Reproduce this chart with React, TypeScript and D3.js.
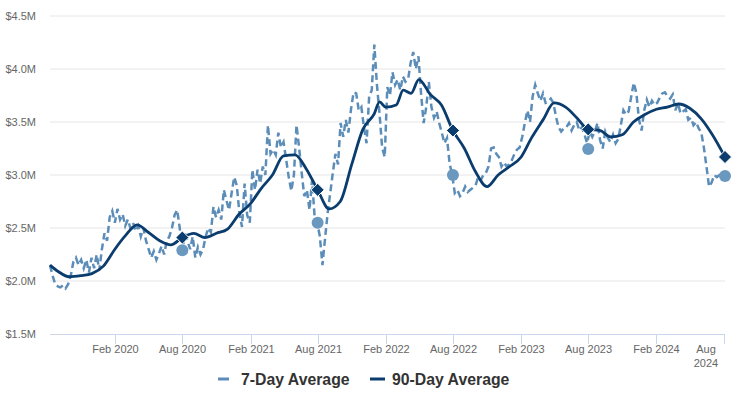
import { FC, useEffect, useRef } from 'react'
import * as d3 from 'd3'

// 7-day average, weekly points starting 2019-08-10 ($M)
const weekStart = '2019-08-10'
const avg7 = [
  2.15, 2.05, 1.97, 1.95, // Aug 2019
  1.94, 1.96, 1.93, 1.97,
  2.05, 2.18, 2.22, 2.15,
  2.2, 2.12, 2.2, 2.08, 2.22,
  2.12, 2.25, 2.1, 2.3,
  2.45, 2.38, 2.6, 2.66, // Jan 2020
  2.55, 2.68, 2.58, 2.63, 2.52,
  2.58, 2.5, 2.55, 2.47,
  2.52, 2.42, 2.5, 2.38,
  2.3, 2.22, 2.28, 2.2, 2.26,
  2.33, 2.25, 2.38, 2.42,
  2.5, 2.62, 2.67, 2.5,
  2.29, 2.45, 2.38, 2.3, 2.42, // Aug 2020
  2.22, 2.32, 2.25, 2.3,
  2.42, 2.5, 2.46, 2.7, 2.6,
  2.67, 2.58, 2.86, 2.76,
  2.67, 2.83, 2.98, 2.9,
  2.64, 2.51, 2.92, 2.62, 2.55, // Jan 2021
  3.05, 2.86, 3.05, 2.92,
  3.08, 3.0, 3.47, 3.2,
  3.24, 3.19, 3.4, 3.26,
  3.31, 3.15, 2.98, 2.85, 3.0,
  3.47, 3.26, 3.02, 2.8,
  2.86, 2.67, 2.95, 2.6, 2.55,
  2.42, 2.15, 2.4, 2.64, // Aug 2021
  2.83, 3.02, 3.2, 3.1,
  3.49, 3.36, 3.52, 3.4, 3.62,
  3.78, 3.77, 3.61, 3.64,
  3.45, 3.3, 3.74, 3.8,
  4.23, 3.85, 3.58, 3.26, 3.17, // Jan 2022
  3.83, 3.75, 3.97, 3.85,
  3.9, 3.8, 3.93, 3.88,
  3.9, 4.06, 4.16, 4.0, 4.12,
  3.77, 3.49, 3.64, 3.88,
  3.64, 3.54, 3.6, 3.49,
  3.4, 3.3, 3.35, 3.11, 3.0,
  2.83, 2.86, 2.8, 2.83, // Aug 2022
  2.89, 2.84, 2.86, 2.88,
  2.9, 2.98, 2.95, 3.0, 3.02,
  3.08, 3.25, 3.26, 3.2,
  3.17, 3.08, 3.12, 3.08, 3.1,
  3.14, 3.2, 3.24, 3.26, // Jan 2023
  3.36, 3.49, 3.61, 3.5,
  3.74, 3.85, 3.77, 3.7,
  3.77, 3.68, 3.69, 3.72, 3.68,
  3.55, 3.45, 3.41, 3.44,
  3.45, 3.49, 3.42, 3.47,
  3.5, 3.42, 3.45, 3.38, 3.3,
  3.41, 3.36, 3.41, 3.49, // Aug 2023
  3.33, 3.25, 3.41, 3.35, 3.31,
  3.38, 3.3, 3.34, 3.47,
  3.61, 3.57, 3.6, 3.74,
  3.87, 3.77, 3.52, 3.42, 3.61,
  3.71, 3.64, 3.7, 3.66, // Jan 2024
  3.68, 3.73, 3.77, 3.78,
  3.74, 3.72, 3.76, 3.61, 3.68,
  3.58, 3.6, 3.62, 3.52,
  3.54, 3.47, 3.5, 3.44,
  3.4, 3.26, 3.08, 2.89, 2.93,
  3.0, 2.98, 3.0, 2.99,
  2.99
]

// 90-day average ($M)
const dates90 = [
  '2019-08-10', '2019-09-01', '2019-10-01', '2019-11-01', '2019-12-01',
  '2020-01-01', '2020-02-01', '2020-03-01', '2020-04-01', '2020-05-01', '2020-06-01',
  '2020-07-01', '2020-08-01', '2020-09-01', '2020-10-01', '2020-11-01', '2020-12-01',
  '2021-01-01', '2021-02-01', '2021-03-01', '2021-04-01', '2021-05-01', '2021-06-01',
  '2021-07-01', '2021-08-01', '2021-09-01', '2021-10-01', '2021-11-01', '2021-12-01',
  '2022-01-01', '2022-01-15', '2022-02-01', '2022-03-01', '2022-03-20', '2022-04-10',
  '2022-05-01', '2022-06-01',
  '2022-07-01', '2022-08-01', '2022-09-01', '2022-10-01', '2022-11-01', '2022-12-01',
  '2023-01-01', '2023-02-01', '2023-03-01', '2023-04-01', '2023-05-01', '2023-06-01',
  '2023-07-01', '2023-08-01', '2023-09-01', '2023-10-01', '2023-11-01', '2023-12-01',
  '2024-01-01', '2024-02-01', '2024-03-01', '2024-04-01', '2024-05-01', '2024-06-01',
  '2024-07-01', '2024-08-04'
]
const avg90 = [
  2.15, 2.09, 2.04, 2.05, 2.07,
  2.14, 2.3, 2.43, 2.53, 2.46, 2.38,
  2.34, 2.41, 2.45, 2.41, 2.45, 2.49,
  2.63, 2.73, 2.87, 3.0, 3.18, 3.19,
  3.06, 2.86, 2.68, 2.75, 3.1, 3.43,
  3.58, 3.69, 3.64, 3.66, 3.8, 3.77,
  3.9, 3.76,
  3.66, 3.42, 3.25, 3.03, 2.89, 3.0,
  3.08, 3.17, 3.35, 3.52, 3.68, 3.64,
  3.54, 3.43, 3.42, 3.36, 3.38, 3.5,
  3.57, 3.62, 3.64, 3.67, 3.63, 3.53,
  3.38, 3.17
]

// yearly August markers
const markerDates = ['2020-08-01', '2021-08-01', '2022-08-01', '2023-08-01', '2024-08-04']
const marker7 = [2.29, 2.55, 3.0, 3.245, 2.99]
const marker90 = [2.41, 2.86, 3.42, 3.43, 3.17]

const yTicks = [1.5, 2.0, 2.5, 3.0, 3.5, 4.0, 4.5]
const xTicks = [
  '2020-02-01', '2020-08-01', '2021-02-01', '2021-08-01', '2022-02-01',
  '2022-08-01', '2023-02-01', '2023-08-01', '2024-02-01', '2024-08-01'
]

const series = [
  { name: '7-Day Average', color: '#5b8db8' },
  { name: '90-Day Average', color: '#0b3c6e' }
]

const W = 737
const H = 398
const FONT = 'Arial, "Liberation Sans", sans-serif'

const Chart: FC = () => {
  const svgRef = useRef<SVGSVGElement>(null)

  useEffect(() => {
    if (!svgRef.current) return
    const svg = d3.select(svgRef.current)
    svg.selectAll('*').remove()

    const parse = d3.utcParse('%Y-%m-%d')
    const start = parse(weekStart)!
    const data7 = avg7.map((v, i) => ({ d: d3.utcDay.offset(start, i * 7), v }))
    const data90 = avg90.map((v, i) => ({ d: parse(dates90[i])!, v }))

    const x = d3.scaleUtc()
      .domain([parse('2019-08-10')!, parse('2024-08-04')!])
      .range([50, 725])
    const y = d3.scaleLinear().domain([1.5, 4.5]).range([334, 16])

    // grid
    svg.append('g')
      .selectAll('line')
      .data(yTicks.slice(1))
      .join('line')
      .attr('x1', 50).attr('x2', 725)
      .attr('y1', d => y(d)).attr('y2', d => y(d))
      .attr('stroke', '#e6e6e6')

    svg.append('g')
      .selectAll('text')
      .data(yTicks)
      .join('text')
      .attr('x', 36)
      .attr('y', d => y(d) + 4)
      .attr('text-anchor', 'end')
      .attr('font-size', 11)
      .attr('font-family', FONT)
      .attr('fill', '#666')
      .text(d => `$${d.toFixed(1)}M`)

    // x axis
    svg.append('line')
      .attr('x1', 50).attr('x2', 725)
      .attr('y1', 334.5).attr('y2', 334.5)
      .attr('stroke', '#ccd6eb')

    const fmt = d3.utcFormat('%b %Y')
    const xt = svg.append('g')
    xTicks.forEach((s, i) => {
      const d = parse(s)!
      const px = Math.round(x(d)) + 0.5
      xt.append('line')
        .attr('x1', px).attr('x2', px)
        .attr('y1', 334).attr('y2', 344)
        .attr('stroke', '#ccd6eb')
      const t = xt.append('text')
        .attr('text-anchor', 'middle')
        .attr('font-size', 11)
        .attr('font-family', FONT)
        .attr('fill', '#666')
      if (i === xTicks.length - 1) {
        const [m, yr] = fmt(d).split(' ')
        t.append('tspan').attr('x', 706).attr('y', 353).text(m)
        t.append('tspan').attr('x', 706).attr('y', 367).text(yr)
      } else {
        t.attr('x', px).attr('y', 353).text(fmt(d))
      }
    })

    // lines
    const line = d3.line<{ d: Date; v: number }>()
      .x(p => x(p.d))
      .y(p => y(p.v))

    svg.append('path')
      .datum(data7)
      .attr('d', line)
      .attr('fill', 'none')
      .attr('stroke', series[0].color)
      .attr('stroke-width', 2.5)
      .attr('stroke-dasharray', '7,4')

    svg.append('path')
      .datum(data90)
      .attr('d', line.curve(d3.curveMonotoneX))
      .attr('fill', 'none')
      .attr('stroke', series[1].color)
      .attr('stroke-width', 2.8)
      .attr('stroke-linejoin', 'round')

    // markers
    const md = markerDates.map(s => parse(s)!)
    svg.append('g')
      .selectAll('circle')
      .data(md)
      .join('circle')
      .attr('cx', d => x(d))
      .attr('cy', (_, i) => y(marker7[i]))
      .attr('r', 6)
      .attr('fill', '#6a98bf')

    const diamond = d3.symbol().type(d3.symbolDiamond2).size(110)
    svg.append('g')
      .selectAll('path')
      .data(md)
      .join('path')
      .attr('d', diamond)
      .attr('transform', (d, i) => `translate(${x(d)},${y(marker90[i])})`)
      .attr('fill', series[1].color)
      .attr('stroke', '#fff')
      .attr('stroke-width', 1)

    // legend
    const lg = svg.append('g').attr('font-family', FONT)
    lg.append('line')
      .attr('x1', 218).attr('x2', 229)
      .attr('y1', 379).attr('y2', 379)
      .attr('stroke', series[0].color).attr('stroke-width', 3)
    lg.append('text')
      .attr('x', 241).attr('y', 384.5)
      .attr('font-size', 15.8).attr('font-weight', 'bold').attr('fill', '#333')
      .text(series[0].name)
    lg.append('line')
      .attr('x1', 370).attr('x2', 385)
      .attr('y1', 379).attr('y2', 379)
      .attr('stroke', series[1].color).attr('stroke-width', 3)
    lg.append('text')
      .attr('x', 392).attr('y', 384.5)
      .attr('font-size', 15.8).attr('font-weight', 'bold').attr('fill', '#333')
      .text(series[1].name)
  }, [])

  return (
    <svg
      ref={svgRef}
      width={W}
      height={H}
      style={{ position: 'absolute', left: 0, top: 0, background: '#fff' }}
    />
  )
}

export default function App() {
  return <Chart />
}
